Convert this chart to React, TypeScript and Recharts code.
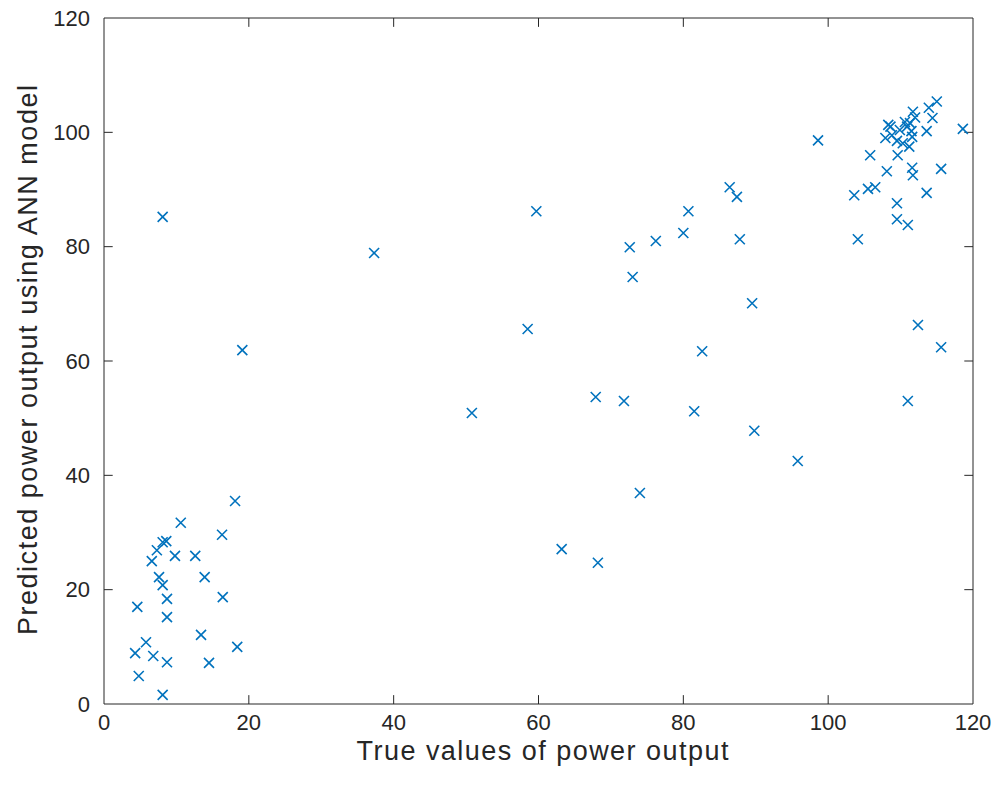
import {
  ScatterChart,
  Scatter,
  XAxis,
  YAxis,
  ReferenceLine,
  Label,
} from 'recharts';

// measured (true) power output
const trueValues = [
  18.1, 10.6, 16.3, 8.1, 8.6, 7.3, 6.6, 9.8, 12.6, 7.6, 8.1, 13.9, 8.7, 16.4, 4.6,
  8.7, 13.4, 5.8, 18.4, 4.3, 6.8, 8.7, 14.5, 4.8, 8.1,
  8.1, 19.1, 37.3,
  50.8, 58.5, 59.7, 63.2, 67.9, 68.2, 71.8, 72.6, 73.0, 74.0, 76.2, 80.0, 80.7,
  81.5, 82.6, 86.4, 87.4, 87.8, 89.5, 89.8, 95.8,
  98.6, 103.6, 104.1, 105.5, 106.5, 105.8, 108.1, 109.5, 109.5, 111.0, 109.6,
  111.6, 111.7, 113.6, 115.6, 112.4, 115.6, 111.0, 118.6, 113.6, 115.0, 113.9, 114.4,
  107.9, 108.3, 108.8, 109.5, 109.9, 110.3, 110.6, 110.9, 111.3, 111.6, 111.5,
  111.7, 112.0, 111.2, 108.6,
];

// ANN prediction for each of the above
const predictedValues = [
  35.5, 31.7, 29.6, 28.3, 28.5, 26.9, 25.0, 25.9, 25.9, 22.2, 20.8, 22.2, 18.4, 18.7, 17.0,
  15.2, 12.1, 10.8, 10.0, 8.9, 8.4, 7.3, 7.2, 4.9, 1.6,
  85.2, 61.9, 78.9,
  50.9, 65.6, 86.2, 27.1, 53.7, 24.7, 53.0, 79.9, 74.7, 36.9, 81.0, 82.4, 86.2,
  51.2, 61.7, 90.4, 88.7, 81.3, 70.1, 47.8, 42.5,
  98.6, 89.0, 81.3, 90.1, 90.4, 96.0, 93.2, 87.6, 84.8, 83.8, 96.0,
  93.8, 92.5, 89.4, 93.6, 66.3, 62.4, 53.0, 100.6, 100.2, 105.4, 104.3, 102.5,
  99.0, 101.3, 99.5, 98.5, 100.4, 98.1, 101.8, 101.0, 101.6, 99.2, 100.2,
  103.6, 102.6, 97.5, 101.0,
];

const axisTicks = [0, 20, 40, 60, 80, 100, 120];
const innerTicks = [20, 40, 60, 80, 100];

const points = trueValues.map((t, i) => ({ x: t, y: predictedValues[i] }));

const ink = '#262626';
const blue = '#0072BD';
const font = '"Liberation Sans", Arial, Helvetica, sans-serif';

// inward tick length in data units (about 9px on each axis)
const tickX = 1.2;
const tickY = 1.55;

const Cross = (props: any) => {
  const { cx, cy } = props;
  const r = 5;
  return (
    <path
      d={`M${cx - r},${cy - r}L${cx + r},${cy + r}M${cx + r},${cy - r}L${cx - r},${cy + r}`}
      stroke={blue}
      strokeWidth={1.6}
      fill="none"
    />
  );
};

export default function App() {
  return (
    <div style={{ position: 'absolute', left: 0, top: 0, background: '#fff' }}>
      <ScatterChart
        width={997}
        height={791}
        margin={{ top: 18, right: 24, bottom: 27, left: 0 }}
      >
        <XAxis
          type="number"
          dataKey="x"
          domain={[0, 120]}
          ticks={axisTicks}
          allowDataOverflow
          tickLine={false}
          tickSize={0}
          tickMargin={10}
          height={60}
          stroke={ink}
          tick={{ fill: ink, fontSize: 22, fontFamily: font }}
        >
          <Label
            content={({ viewBox }: any) => (
              <text
                x={viewBox.x + viewBox.width / 2 + 4}
                y={viewBox.y + 56}
                textAnchor="middle"
                textLength={372}
                lengthAdjust="spacing"
                fill={ink}
                fontSize={27}
                fontFamily={font}
              >
                True values of power output
              </text>
            )}
          />
        </XAxis>
        <YAxis
          type="number"
          dataKey="y"
          domain={[0, 120]}
          ticks={axisTicks}
          allowDataOverflow
          tickLine={false}
          tickSize={0}
          tickMargin={14}
          width={104}
          stroke={ink}
          tick={{ fill: ink, fontSize: 22, fontFamily: font }}
        >
          <Label
            content={({ viewBox }: any) => {
              const lx = viewBox.x + 28;
              const ly = viewBox.y + viewBox.height / 2 - 1;
              return (
                <text
                  x={lx}
                  y={ly}
                  transform={`rotate(-90 ${lx} ${ly})`}
                  textAnchor="middle"
                  dominantBaseline="central"
                  textLength={550}
                  lengthAdjust="spacing"
                  fill={ink}
                  fontSize={27}
                  fontFamily={font}
                >
                  Predicted power output using ANN model
                </text>
              );
            }}
          />
        </YAxis>

        {/* box edges */}
        <ReferenceLine y={120} stroke={ink} strokeWidth={1} />
        <ReferenceLine x={120} stroke={ink} strokeWidth={1} />

        {/* inward ticks on all four sides */}
        {innerTicks.map((t) => (
          <ReferenceLine
            key={`xb${t}`}
            segment={[{ x: t, y: 0 }, { x: t, y: tickY }]}
            stroke={ink}
          />
        ))}
        {innerTicks.map((t) => (
          <ReferenceLine
            key={`xt${t}`}
            segment={[{ x: t, y: 120 }, { x: t, y: 120 - tickY }]}
            stroke={ink}
          />
        ))}
        {innerTicks.map((t) => (
          <ReferenceLine
            key={`yl${t}`}
            segment={[{ x: 0, y: t }, { x: tickX, y: t }]}
            stroke={ink}
          />
        ))}
        {innerTicks.map((t) => (
          <ReferenceLine
            key={`yr${t}`}
            segment={[{ x: 120, y: t }, { x: 120 - tickX, y: t }]}
            stroke={ink}
          />
        ))}

        <Scatter data={points} shape={<Cross />} isAnimationActive={false} />
      </ScatterChart>
    </div>
  );
}
